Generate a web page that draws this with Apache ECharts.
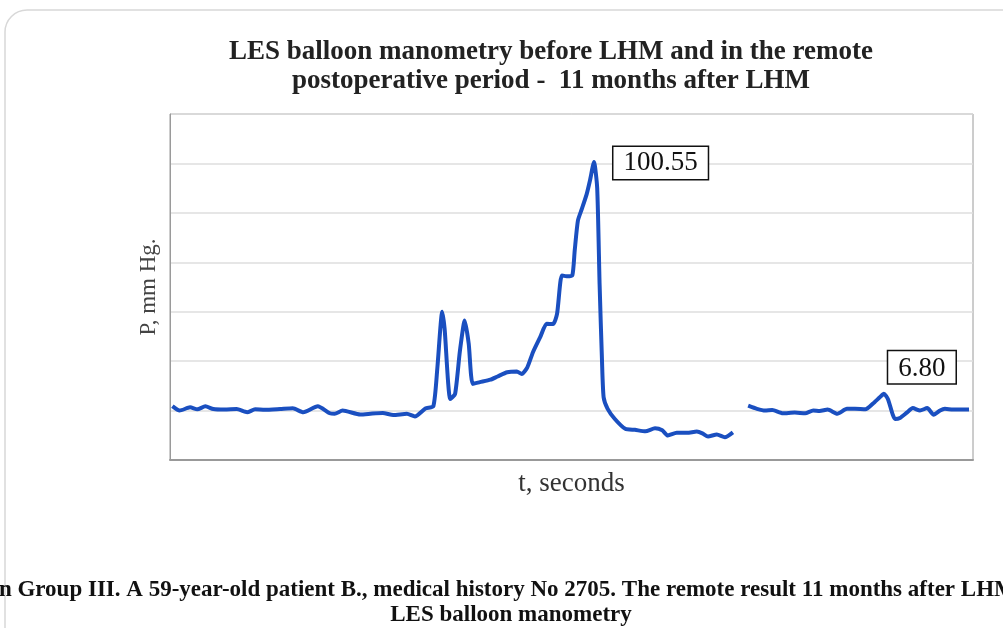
<!DOCTYPE html>
<html>
<head>
<meta charset="utf-8">
<title>LES balloon manometry</title>
<script src="https://cdn.jsdelivr.net/npm/echarts@6/dist/echarts.min.js"></script>
<style>
    html, body { margin: 0; padding: 0; background: #fff; }
    #chart { width: 1003px; height: 628px; }
</style>
</head>
<body>
<div id="chart"></div>
<script>
// time (arbitrary seconds) and pressure (mm Hg)
const beforeTime = [0.3, 1.2, 2.5, 3.4, 4.4, 5.4, 6.8, 8.3, 9.6, 10.6, 11.8, 13.7, 15.3, 16.6, 18.4, 19.9, 20.5, 21.5, 23.7, 25.2,
    26.5, 27.8, 29.5, 30.5, 31.8, 32.8, 33.3, 33.9, 34.2, 34.9, 35.5, 36.1, 36.7, 37.2, 37.7, 38.6, 39.9, 40.8, 42.0, 43.2,
    43.8, 44.5, 45.2, 46.1, 46.9, 47.7, 48.2, 48.8, 49.4, 50.1, 50.4, 50.8, 51.3, 51.9, 52.3, 52.8, 53.2, 53.5, 53.8, 54.0,
    54.5, 55.4, 56.7, 57.9, 59.2, 60.4, 61.3, 62.0, 63.1, 64.4, 65.6, 66.3, 67.0, 68.1, 69.1, 70.1];
const beforeP = [1.8, 0, 1.3, 0.5, 1.7, 0.6, 0.4, 0.6, -0.7, 0.5, 0.3, 0.6, 0.9, -0.7, 1.7, -1.1, -1.3, 0, -1.6, -1.2,
    -1.0, -1.8, -1.3, -2.4, 0.8, 1.8, 17.5, 40, 33, 4.7, 6.7, 24, 36.4, 27, 10.8, 11.5, 12.5, 13.8, 15.5, 15.8,
    14.8, 17.5, 23.6, 29.7, 35.1, 35, 39.1, 54.7, 54.3, 54.7, 64.8, 76.9, 81.7, 87.7, 93.1, 100.55, 90, 51, 20, 5.4,
    0.7, -3.4, -7.4, -7.8, -8.4, -7.2, -8.0, -10.1, -9.0, -9.0, -8.5, -9.2, -10.5, -9.7, -10.8, -8.8];

const afterTime = [72.0, 73.1, 74.1, 75.0, 76.3, 77.8, 79.1, 80.1, 80.9, 81.9, 83.1, 84.3, 85.3, 86.6, 87.5, 88.4, 88.9,
    89.4, 90.3, 90.9, 91.8, 92.5, 93.4, 94.3, 95.1, 95.9, 96.5, 97.5, 99.5];
const afterP = [2.0, 0.7, 0, 0.2, -1.1, -0.8, -1.1, 0, -0.2, 0.4, -1.3, 0.7, 0.7, 0.5, 2.7, 5.4, 6.8,
    4.7, -3.4, -3.0, -0.7, 1.0, 0, 1.0, -1.7, 0, 0.7, 0.4, 0.4];

const peakBefore = 100.55;
const peakAfter = 6.80;

const lineColor = '#1a4fc0';
const serif = '"Liberation Serif", "DejaVu Serif", serif';

// only the peak point gets a boxed label
function buildData(times, values, peak, label) {
    return times.map((t, i) => {
        if (values[i] === peak) {
            return { value: [t, values[i]], label: label };
        }
        return [t, values[i]];
    });
}

const boxLabel = {
    show: true,
    formatter: p => p.value[1].toFixed(2),
    fontFamily: serif,
    fontSize: 27,
    color: '#111',
    backgroundColor: '#fff',
    borderColor: '#111',
    borderWidth: 1.5,
    padding: [4, 10, 1, 10]
};

const chart = echarts.init(document.getElementById('chart'));

const option = {
    animation: false,
    title: {
        text: 'LES balloon manometry before LHM and in the remote\npostoperative period -  11 months after LHM',
        left: 546,
        top: 33,
        textAlign: 'center',
        textStyle: {
            fontFamily: serif,
            fontWeight: 'bold',
            fontSize: 27,
            lineHeight: 29,
            color: '#222'
        }
    },
    grid: {
        left: 170,
        right: 30,
        top: 114,
        bottom: 168,
        show: true,
        borderColor: '#9a9a9a',
        borderWidth: 1
    },
    xAxis: {
        type: 'value',
        min: 0,
        max: 100,
        name: 't, seconds',
        nameLocation: 'middle',
        nameGap: 10,
        nameTextStyle: { fontFamily: serif, fontSize: 27, color: '#333' },
        axisLine: { show: true, onZero: false, lineStyle: { color: '#999', width: 2 } },
        axisTick: { show: false },
        axisLabel: { show: false },
        splitLine: { show: false }
    },
    yAxis: {
        type: 'value',
        min: -20,
        max: 120,
        interval: 20,
        name: 'P, mm Hg.',
        nameLocation: 'middle',
        nameGap: 10,
        nameTextStyle: { fontFamily: serif, fontSize: 23, color: '#444' },
        axisLine: { show: true, onZero: false, lineStyle: { color: '#9a9a9a' } },
        axisTick: { show: false },
        axisLabel: { show: false },
        splitLine: { lineStyle: { color: '#dedede', width: 1.5 } }
    },
    series: [
        {
            name: 'before LHM',
            type: 'line',
            data: buildData(beforeTime, beforeP, peakBefore,
                Object.assign({}, boxLabel, { position: 'right', distance: 19, offset: [0, 1] })),
            showSymbol: true,
            symbol: 'circle',
            symbolSize: 1,
            itemStyle: { color: 'rgba(0,0,0,0)' },
            smooth: 0.2,
            lineStyle: { color: lineColor, width: 4 },
            label: { show: false }
        },
        {
            name: '11 months after LHM',
            type: 'line',
            data: buildData(afterTime, afterP, peakAfter,
                Object.assign({}, boxLabel, { position: 'top', distance: 5, offset: [38, -5] })),
            showSymbol: true,
            symbol: 'circle',
            symbolSize: 1,
            itemStyle: { color: 'rgba(0,0,0,0)' },
            smooth: 0.2,
            lineStyle: { color: lineColor, width: 4 },
            label: { show: false }
        }
    ],
    graphic: [
        {
            type: 'rect',
            shape: { x: 5, y: 10, width: 1020, height: 700, r: 22 },
            style: { fill: 'none', stroke: '#d8d8d8', lineWidth: 1.5 },
            z: -1
        },
        {
            type: 'text',
            x: 507,
            y: 579,
            style: {
                text: 'in Group III. A 59-year-old patient B., medical history No 2705. The remote result 11 months after LHM.',
                font: 'bold 23px ' + serif,
                fill: '#111',
                align: 'center'
            }
        },
        {
            type: 'text',
            x: 511,
            y: 604,
            style: {
                text: 'LES balloon manometry',
                font: 'bold 23px ' + serif,
                fill: '#111',
                align: 'center'
            }
        }
    ]
};

chart.setOption(option);
</script>
</body>
</html>
